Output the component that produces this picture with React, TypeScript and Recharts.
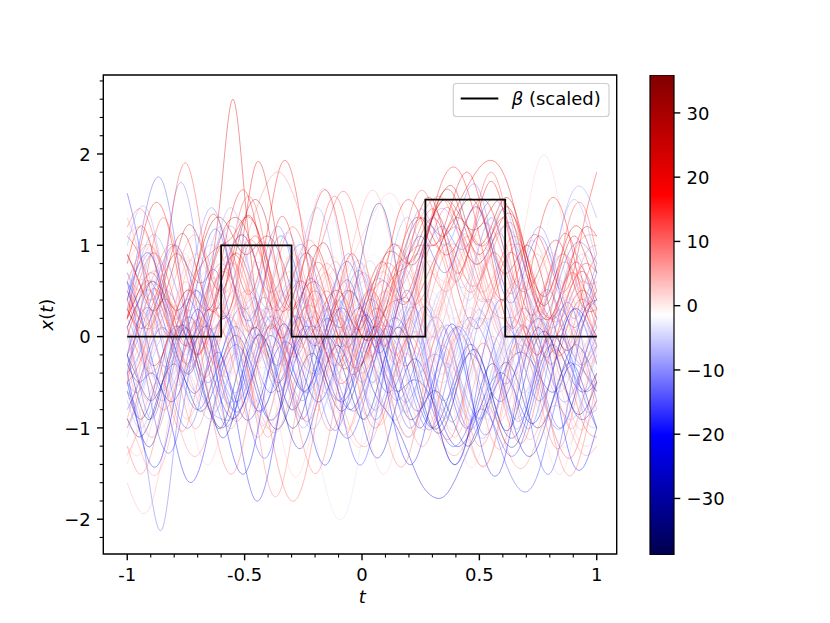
import React from 'react';
import {
  LineChart,
  Line,
  XAxis,
  YAxis,
  ReferenceArea,
  BarChart,
  Bar,
} from 'recharts';

// sample grid (t)
const tGrid = [
  -1, -0.95, -0.9, -0.85, -0.8, -0.75, -0.7, -0.65, -0.6, -0.55,
  -0.5, -0.45, -0.4, -0.35, -0.3, -0.25, -0.2, -0.15, -0.1, -0.05,
  0, 0.05, 0.1, 0.15, 0.2, 0.25, 0.3, 0.35, 0.4, 0.45,
  0.5, 0.55, 0.6, 0.65, 0.7, 0.75, 0.8, 0.85, 0.9, 0.95,
  1,
];

// x(t) samples (41 values each)
const samples: number[][] = [
  [0.2,0.5,0.6,0.3,-0.1, -0.4,-0.2,0.6,1.6,2.6, 1.55,0.4,-0.3,-0.5,-0.2, 0.3,0.5,0.3,-0.1,-0.4, -0.3,0.1,0.5,0.7,0.8, 1.1,1.3,1.1,0.6,0.2, 0.1,0.4,0.8,0.9,0.5, 0.0,-0.3,-0.1,0.3,0.4, 0.2],
  [1.57,1.0,0.2,-0.3,-0.2, 0.3,0.5,0.2,-0.4,-0.8, -0.7,-0.2,0.2,0.1,-0.3, -0.6,-0.4,0.1,0.5,0.6, 0.2,-0.3,-0.6,-0.5,-0.1, 0.3,0.2,-0.3,-0.8,-1.0, -0.7,-0.2,0.1,0.0,-0.4, -0.7,-0.5,0.0,0.3,0.1, -0.3],
  [0.4,1.0,1.6,1.7,1.1, 0.3,-0.3,-0.5,-0.2,0.2, 0.3,0.0,-0.4,-0.6,-0.3, 0.1,0.2,-0.1,-0.5,-0.8, -0.7,-0.3,0.0,-0.1,-0.5, -0.9,-1.0,-0.6,-0.1,0.2, 0.1,-0.2,-0.5,-0.4,0.0, 0.4,0.5,0.2,-0.2,-0.3, -0.1],
  [-0.5,-0.6,-0.2,0.5,1.5, 1.6,0.9,0.0,-0.6,-0.7, -0.3,0.1,0.2,-0.1,-0.5, -0.7,-0.4,0.1,0.3,0.1, -0.3,-0.5,-0.2,0.3,0.4, 0.0,-0.5,-0.7,-0.5,-0.1, 0.2,0.0,-0.5,-0.9,-0.8, -0.3,0.1,0.3,0.0,-0.4, -0.6],
  [0.9,0.6,0.4,0.7,1.5, 1.9,1.4,0.6,0.2,0.4, 0.9,1.1,0.8,0.2,-0.2, -0.1,0.3,0.5,0.3,-0.1, -0.3,0.0,0.5,0.8,0.9, 1.2,1.4,1.2,0.8,0.5, 0.6,0.9,0.8,0.4,0.0, -0.2,0.1,0.5,0.7,0.5, 0.2],
  [-0.2,0.1,0.5,0.4,0.0, -0.3,0.0,0.6,1.0,0.9, 0.5,0.6,1.2,1.85,1.8, 1.1,0.3,-0.2,-0.3,0.0, 0.4,0.5,0.2,-0.2,-0.3, 0.1,0.7,1.1,1.3,1.2, 1.0,1.1,1.3,1.0,0.4, -0.1,-0.2,0.2,0.6,0.7, 0.4],
  [0.5,0.3,0.1,0.2,0.6, 1.0,1.1,0.8,0.5,0.6, 1.0,1.4,1.7,1.8,1.6, 1.2,0.6,0.1,-0.2,-0.1, 0.3,0.6,0.7,0.4,0.0, -0.2,0.1,0.5,0.7,0.6, 0.3,0.2,0.4,0.6,0.5, 0.2,-0.1,-0.2,0.0,0.3, 0.5],
  [-0.3,0.1,0.3,0.1,-0.3, -0.6,-0.5,-0.1,0.2,0.1, -0.2,-0.3,0.0,0.4,0.6, 0.9,1.45,1.6,1.1,0.3, -0.4,-0.8,-0.7,-0.3,0.0, -0.1,-0.5,-0.9,-1.0,-0.6, -0.1,0.2,0.1,-0.3,-0.6, -0.5,-0.1,0.3,0.4,0.1, -0.3],
  [-0.6,-0.9,-0.7,-0.2,0.1, 0.0,-0.4,-0.8,-1.0,-0.8, -0.3,0.0,-0.1,-0.5,-0.8, -0.6,-0.1,0.2,0.1,0.3, 0.9,1.4,1.35,0.7,-0.1, -0.7,-1.0,-0.9,-0.5,-0.2, -0.3,-0.7,-1.1,-1.2,-0.9, -0.4,-0.1,-0.2,-0.5,-0.6, -0.4],
  [0.1,-0.2,-0.4,-0.2,0.2, 0.5,0.4,0.1,0.2,0.6, 1.0,1.0,0.6,0.2,0.1, 0.4,0.8,1.2,1.55,1.5, 1.0,0.4,-0.1,-0.3,0.0, 0.6,1.1,1.4,1.3,0.9, 0.5,0.4,0.7,1.0,0.9, 0.5,0.2,0.3,0.6,0.8, 0.7],
  [-0.4,-0.1,0.3,0.5,0.3, -0.1,-0.3,0.0,0.5,0.8, 0.6,0.1,-0.3,-0.4,-0.1, 0.3,0.4,0.3,0.5,0.9, 1.4,1.6,1.3,0.7,0.2, 0.0,0.2,0.6,0.9,1.0, 0.8,0.5,0.4,0.7,1.0, 1.0,0.6,0.1,-0.2,-0.1, 0.2],
  [0.8,1.0,0.9,0.5,0.2, 0.3,0.6,0.7,0.4,0.0, -0.2,0.0,0.3,0.4,0.2, -0.1,-0.2,0.1,0.5,0.8, 1.1,1.35,1.55,1.5,1.1, 0.6,0.3,0.4,0.8,1.1, 1.0,0.6,0.2,0.0,0.2, 0.6,0.9,0.8,0.4,0.1, 0.0],
  [0.3,0.0,-0.3,-0.2,0.2, 0.5,0.4,0.3,0.6,0.9, 0.8,0.4,0.1,0.2,0.5, 0.6,0.3,-0.2,-0.5,-0.4, 0.0,0.3,0.2,0.0,0.2, 0.5,0.8,1.1,1.4,1.65, 1.85,1.93,1.8,1.4,0.8, 0.3,0.0,0.1,0.4,0.5, 0.3],
  [-0.2,0.2,0.4,0.2,-0.2, -0.4,-0.2,0.2,0.5,0.4, 0.0,-0.3,-0.3,0.0,0.3, 0.4,0.2,0.0,0.1,0.4, 0.6,0.5,0.2,0.0,0.1, 0.4,0.5,0.3,0.2,0.4, 0.7,0.8,0.6,0.7,1.3, 1.9,1.9,1.3,0.6,0.2, 0.1],
  [-0.5,-0.3,0.1,0.4,0.3, 0.0,-0.2,0.1,0.6,0.9, 0.7,0.2,-0.2,-0.3,0.0, 0.3,0.3,0.0,-0.3,-0.3, 0.1,0.5,0.6,0.4,0.4, 0.8,1.35,1.75,1.85,1.6, 1.1,0.6,0.4,0.6,1.0, 1.1,0.8,0.5,0.7,1.3, 1.8],
  [0.7,0.5,0.6,0.9,1.0, 0.7,0.2,-0.1,0.0,0.3, 0.5,0.4,0.0,-0.3,-0.2, 0.2,0.6,0.8,0.6,0.2, 0.0,0.1,0.4,0.7,1.0, 1.3,1.5,1.5,1.2,0.8, 0.5,0.6,0.9,1.0,0.7, 0.3,0.2,0.5,0.9,1.1, 1.1],
  [0.2,-0.1,-0.5,-0.7,-0.5, -0.1,0.2,0.1,-0.3,-0.6, -0.5,-0.1,0.3,0.5,0.3, -0.1,-0.4,-0.3,0.0,0.2, 0.0,-0.4,-0.8,-0.9,-0.6, -0.2,0.0,-0.2,-0.6,-0.9, -0.8,-0.4,0.0,0.1,-0.1, 0.1,0.6,1.2,1.6,1.6, 1.3],
  [-0.6,-0.9,-1.7,-2.1,-1.2, -0.3,0.1,0.0,-0.4,-0.7, -0.6,-0.2,0.1,0.0,-0.3, -0.6,-0.5,-0.1,0.3,0.5, 0.3,-0.1,-0.5,-0.7,-0.5, -0.1,0.2,0.1,-0.3,-0.7, -0.9,-0.7,-0.3,0.0,-0.1, -0.5,-0.9,-1.0,-0.7,-0.3, 0.0],
  [-1.6,-1.9,-1.85,-1.3,-0.6, -0.1,0.0,-0.2,-0.3,0.0, 0.5,0.8,0.7,0.3,-0.1, -0.3,-0.1,0.3,0.6,0.5, 0.1,-0.3,-0.4,-0.1,0.3, 0.6,0.7,0.6,0.7,1.0, 1.1,0.8,0.3,-0.1,-0.2, 0.1,0.5,0.6,0.3,-0.1, -0.3],
  [-0.3,-0.5,-0.4,-0.6,-1.1, -1.55,-1.5,-1.0,-0.4,-0.1, -0.2,-0.6,-0.9,-0.8,-0.4, 0.0,0.1,-0.2,-0.6,-0.8, -0.6,-0.2,0.1,0.0,-0.4, -0.8,-1.0,-0.8,-0.4,-0.1, -0.2,-0.6,-1.0,-1.1,-0.8, -0.3,0.0,-0.1,-0.4,-0.6, -0.5],
  [0.3,0.0,-0.4,-0.5,-0.2, 0.2,0.4,0.2,-0.2,-0.4, -0.2,0.1,0.2,0.0,-0.3, -0.6,-1.1,-1.7,-2.0,-1.8, -1.1,-0.4,0.0,0.1,-0.1, -0.3,-0.2,0.1,0.3,0.1, -0.3,-0.6,-0.5,-0.1,0.3, 0.4,0.1,-0.3,-0.5,-0.3, 0.1],
  [0.6,0.9,1.0,0.7,0.2, -0.1,0.0,0.4,0.7,0.6, 0.2,-0.3,-0.9,-1.5,-1.8, -1.6,-1.0,-0.4,0.0,0.1, -0.1,-0.2,0.1,0.5,0.8, 0.9,0.7,0.5,0.6,0.9, 1.2,1.2,0.9,0.5,0.2, 0.2,0.5,0.8,0.7,0.3, 0.0],
  [-0.2,-0.5,-0.7,-0.5,-0.1, 0.2,0.1,-0.3,-0.7,-0.9, -0.7,-0.3,0.0,-0.1,-0.4, -0.6,-0.4,0.0,0.3,0.2, -0.2,-0.6,-0.8,-1.0,-1.3, -1.6,-1.75,-1.75,-1.55,-1.25, -0.95,-0.65,-0.4,-0.2,-0.2, -0.4,-0.6,-0.5,-0.1,0.3, 0.4],
  [0.1,0.4,0.5,0.2,-0.2, -0.4,-0.2,0.2,0.3,0.0, -0.5,-0.8,-0.7,-0.3,0.1, 0.2,-0.1,-0.5,-0.7,-0.5, -0.1,0.2,0.1,-0.3,-0.7, -0.8,-0.5,-0.1,0.1,-0.1, -0.5,-0.9,-1.3,-1.6,-1.7, -1.5,-1.0,-0.5,-0.3,-0.4, -0.6],
  [-0.8,-0.5,-0.1,0.1,-0.1, -0.5,-0.6,-0.3,-0.2,-0.7, -1.4,-1.8,-1.5,-0.8,-0.2, 0.1,0.0,-0.4,-0.7,-0.6, -0.2,0.1,0.0,-0.4,-0.8, -1.0,-0.7,-0.2,0.1,0.0, -0.3,-0.6,-0.7,-0.4,0.0, 0.2,0.0,-0.4,-0.8,-0.9, -0.7],
  [0.4,0.2,0.3,0.7,1.0, 0.8,0.3,-0.2,-0.3,0.0, -0.2,-0.9,-1.6,-1.7,-1.1, -0.4,0.1,0.3,0.2,0.0, 0.1,0.4,0.8,1.0,0.8, 0.4,0.2,0.4,0.9,1.3, 1.4,1.1,0.6,0.2,0.1, 0.3,0.7,0.9,0.8,0.6, 0.6],
  [-0.9,-1.2,-1.5,-1.4,-0.9, -0.3,0.2,0.5,0.7,0.8, 0.6,0.2,-0.1,0.0,0.4, 0.6,0.4,0.0,-0.4,-0.5, -0.2,0.2,0.4,0.2,-0.2, -0.4,-0.1,0.4,0.9,1.1, 0.9,0.4,0.0,-0.2,0.0, 0.4,0.6,0.4,0.0,-0.4, -0.5],
  [0.2,0.6,0.9,0.8,0.4, 0.0,-0.2,0.1,0.6,1.0, 1.1,0.8,0.3,0.0,0.1, 0.5,0.8,0.7,0.3,-0.2, -0.4,-0.2,0.2,0.6,0.9, 1.0,1.0,1.1,1.2,1.0, 0.6,0.3,0.2,0.2,0.0, -0.4,-0.9,-1.25,-1.3,-0.9, -0.4],
  [1.1,1.2,1.0,0.6,0.3, 0.4,0.8,1.0,0.9,0.5, 0.1,0.0,0.3,0.6,0.7, 0.4,0.0,-0.2,0.0,0.3, 0.4,0.2,-0.1,-0.1,0.2, 0.4,0.3,-0.1,-0.6,-1.1, -1.4,-1.3,-0.8,-0.2,0.2, 0.3,0.2,0.3,0.6,0.8, 0.7],
  [-1.0,-0.7,-0.3,0.0,0.0, -0.3,-0.7,-0.9,-0.7,-0.3, 0.1,0.3,0.2,-0.2,-0.6, -0.9,-1.0,-0.7,-0.3,0.0, 0.1,-0.1,-0.5,-0.9,-1.1, -0.9,-0.5,-0.3,-0.4,-0.8, -1.1,-1.0,-0.6,-0.2,0.0, -0.2,-0.5,-0.8,-0.9,-0.6, -0.2],
  [0.5,0.8,1.1,1.0,0.6, 0.3,0.4,0.8,1.1,1.2, 0.9,0.5,0.3,0.4,0.6, 0.5,0.1,-0.3,-0.4,-0.1, 0.3,0.6,0.6,0.5,0.7, 1.0,1.3,1.4,1.2,0.9, 0.8,1.0,1.2,1.1,0.7, 0.3,0.1,0.2,0.5,0.6, 0.4],
  [0.0,-0.3,-0.6,-0.6,-0.2, 0.2,0.5,0.4,0.0,-0.4, -0.6,-0.4,0.0,0.3,0.2, -0.2,-0.5,-0.5,-0.2,0.2, 0.4,0.3,-0.1,-0.5,-0.6, -0.3,0.1,0.3,0.1,-0.3, -0.6,-0.5,-0.1,0.3,0.5, 0.3,-0.1,-0.4,-0.4,-0.1, 0.3],
  [0.3,0.1,0.2,0.6,0.9, 0.8,0.6,0.7,1.1,1.3, 1.2,0.8,0.4,0.3,0.6, 0.9,0.8,0.4,0.0,-0.1, 0.2,0.6,0.9,0.9,0.8, 1.0,1.3,1.5,1.4,1.2, 1.2,1.4,1.5,1.2,0.7, 0.3,0.2,0.5,0.8,0.7, 0.3],
  [0.6,0.3,-0.2,-0.6,-0.7, -0.4,0.0,0.1,-0.2,-0.6, -0.9,-0.8,-0.4,-0.1,-0.1, -0.4,-0.7,-0.6,-0.2,0.2, 0.3,0.0,-0.4,-0.6,-0.5, -0.5,-0.7,-1.0,-1.2,-1.1, -0.8,-0.5,-0.4,-0.6,-0.9, -0.9,-0.5,0.0,0.3,0.2, -0.1],
  [-0.7,-0.4,0.0,0.3,0.4, 0.1,-0.3,-0.6,-0.5,-0.1, 0.4,0.7,0.6,0.2,-0.2, -0.3,0.0,0.4,0.5,0.2, -0.3,-0.7,-0.8,-0.5,0.0, 0.3,0.4,0.1,-0.2,-0.1, 0.3,0.6,0.5,0.1,-0.4, -0.7,-0.6,-0.2,0.2,0.4, 0.3],
  [1.1,0.9,0.5,0.1,0.0, 0.3,0.7,0.9,1.0,1.1, 1.3,1.2,0.8,0.4,0.3, 0.5,0.6,0.4,0.0,-0.3, -0.3,0.0,0.3,0.4,0.5, 0.9,1.3,1.5,1.3,0.9, 0.8,1.0,1.3,1.3,0.9, 0.4,0.2,0.4,0.9,1.2, 1.1],
  [-0.4,-0.2,0.2,0.5,0.4, 0.0,-0.5,-0.8,-0.9,-0.9, -0.7,-0.3,0.1,0.2,0.0, -0.3,-0.4,-0.2,0.2,0.6, 0.7,0.3,-0.2,-0.6,-0.7, -0.4,-0.2,-0.3,-0.7,-1.0, -0.9,-0.5,-0.1,0.2,0.3, 0.0,-0.4,-0.7,-0.6,-0.2, 0.2],
  [0.0,0.4,0.7,0.6,0.1, -0.4,-0.6,-0.3,0.2,0.5, 0.4,0.0,-0.2,0.1,0.6, 1.0,1.0,0.6,0.1,-0.2, -0.1,0.3,0.5,0.3,0.0, 0.1,0.5,0.9,1.0,0.7, 0.4,0.5,0.9,1.1,0.9, 0.5,0.2,0.2,0.5,0.9, 1.0],
  [-0.9,-1.1,-0.9,-0.5,-0.3, -0.5,-0.8,-0.7,-0.3,0.0, -0.1,-0.5,-0.9,-1.0,-0.7, -0.3,-0.2,-0.5,-0.8,-0.7, -0.3,0.0,-0.2,-0.6,-0.9, -0.8,-0.6,-0.7,-1.0,-1.2, -1.0,-0.6,-0.3,-0.4,-0.8, -1.0,-0.8,-0.4,-0.1,-0.2, -0.5],
  [-1.2,-1.3,-1.0,-0.5,-0.2, -0.3,-0.6,-0.8,-0.5,0.0, 0.3,0.2,-0.2,-0.6,-0.8, -0.6,-0.3,-0.3,-0.7,-1.1, -1.2,-0.9,-0.4,0.0,0.2, 0.1,-0.2,-0.3,0.0,0.3, 0.2,-0.2,-0.6,-0.8,-0.6, -0.3,-0.3,-0.6,-1.0,-1.2, -1.1],
  [0.9,0.6,0.1,-0.3,-0.4, -0.1,0.3,0.5,0.3,-0.1, -0.5,-0.7,-0.6,-0.2,0.2, 0.4,0.3,0.0,-0.4,-0.7, -0.9,-0.8,-0.4,0.0,0.1, -0.1,-0.4,-0.5,-0.3,0.1, 0.4,0.3,-0.1,-0.5,-0.6, -0.3,0.1,0.5,0.8,0.9, 0.7],
  [0.1,0.4,0.6,0.5,0.3, 0.4,0.8,1.2,1.3,1.1, 0.9,1.0,1.1,0.9,0.5, 0.1,-0.1,0.1,0.4,0.5, 0.3,0.1,0.3,0.7,1.1, 1.3,1.2,1.1,1.3,1.5, 1.4,1.0,0.7,0.8,1.0, 0.8,0.3,-0.1,-0.1,0.2, 0.5],
  [-1.3,-1.0,-0.6,-0.5,-0.8, -1.2,-1.3,-1.0,-0.5,-0.2, -0.3,-0.7,-1.0,-1.0,-0.6, -0.2,0.0,-0.2,-0.6,-1.0, -1.2,-1.1,-0.7,-0.3,-0.2, -0.5,-0.9,-1.2,-1.3,-1.1, -0.8,-0.8,-1.1,-1.4,-1.4, -1.1,-0.8,-0.8,-1.1,-1.3, -1.2],
  [0.7,0.4,0.1,0.0,0.3, 0.8,1.2,1.1,0.6,0.1, -0.2,-0.1,0.3,0.7,0.8, 0.5,0.0,-0.3,-0.2,0.2, 0.7,0.9,0.7,0.2,-0.2, -0.3,0.0,0.4,0.6,0.4, 0.0,-0.4,-0.5,-0.2,0.3, 0.7,0.8,0.5,0.1,-0.1, 0.0],
  [0.4,0.8,0.9,0.5,-0.1, -0.6,-0.8,-0.6,-0.2,0.1, 0.0,-0.3,-0.6,-0.5,-0.2, 0.0,-0.2,-0.6,-1.0,-1.1, -0.8,-0.3,0.1,0.2,0.0, -0.4,-0.8,-1.1,-1.2,-1.0, -0.8,-0.9,-1.2,-1.3,-1.0, -0.5,-0.1,0.0,-0.3,-0.7, -1.0],
  [1.2,1.4,1.2,0.7,0.2, 0.0,0.2,0.6,0.8,0.6, 0.2,0.1,0.4,0.9,1.2, 1.0,0.5,0.0,-0.3,-0.2, 0.2,0.6,0.8,0.7,0.4, 0.4,0.7,1.0,0.9,0.6, 0.6,0.9,1.2,1.2,0.8, 0.3,-0.1,-0.2,0.1,0.6, 0.9],
  [-0.5,-0.9,-1.1,-0.9,-0.4, 0.0,0.1,-0.2,-0.6,-0.8, -0.6,-0.2,0.1,0.1,-0.2, -0.6,-0.8,-0.7,-0.3,0.1, 0.2,0.0,-0.4,-0.7,-0.8, -0.5,-0.1,0.1,-0.1,-0.5, -0.8,-0.9,-0.6,-0.2,-0.1, -0.4,-0.9,-1.2,-1.1,-0.7, -0.3],
  [-0.3,0.0,0.4,0.8,1.0, 0.8,0.4,0.3,0.6,1.0, 1.1,0.8,0.5,0.6,0.9, 1.0,0.7,0.2,-0.1,0.0, 0.3,0.4,0.2,0.1,0.4, 0.8,1.1,1.2,1.0,1.0, 1.3,1.5,1.4,1.0,0.5, 0.2,0.3,0.7,1.0,1.0, 0.8],
  [0.2,0.5,0.7,0.5,0.1, -0.1,0.1,0.3,0.2,0.4, 1.2,1.9,1.6,0.9,0.3, 0.0,0.1,0.4,0.5,0.3, 0.0,0.0,0.3,0.8,1.2, 1.3,1.1,0.9,1.0,1.3, 1.5,1.4,1.0,0.6,0.5, 0.7,1.0,1.0,0.6,0.3, 0.3],
  [0.3,0.8,0.6,0.0,-0.5, -0.4,0.1,0.6,0.5,-0.1, -0.6,-0.7,-0.2,0.4,0.6, 0.2,-0.4,-0.6,-0.2,0.4, 0.7,0.4,-0.2,-0.7,-0.8, -0.3,0.3,0.5,0.1,-0.5, -0.9,-0.7,-0.1,0.4,0.5, 0.1,-0.4,-0.6,-0.3,0.2, 0.5],
  [-0.2,0.4,0.9,0.7,0.1, -0.2,0.2,0.9,1.2,0.8, 0.2,0.0,0.4,1.0,1.1, 0.6,0.0,-0.2,0.2,0.7, 0.8,0.3,-0.3,-0.4,0.1, 0.8,1.3,1.2,0.7,0.4, 0.6,1.1,1.4,1.1,0.4, -0.1,0.0,0.5,0.9,0.7, 0.2],
  [-0.9,-0.4,0.2,0.3,-0.2, -0.8,-1.0,-0.6,0.0,0.2, -0.2,-0.8,-1.1,-0.8,-0.2, 0.2,0.0,-0.5,-1.0,-1.0, -0.5,0.0,0.1,-0.3,-0.9, -1.2,-1.0,-0.4,0.0,-0.1, -0.6,-1.1,-1.2,-0.7,-0.1, 0.1,-0.3,-0.8,-1.0,-0.6, -0.1],
  [0.6,0.1,-0.4,-0.3,0.3, 0.8,0.7,0.1,-0.4,-0.3, 0.3,0.9,1.0,0.5,-0.1, -0.3,0.1,0.6,0.7,0.2, -0.4,-0.5,0.0,0.6,0.8, 0.4,-0.2,-0.4,0.0,0.6, 0.9,0.6,0.0,-0.4,-0.2, 0.3,0.7,0.6,0.1,-0.3, -0.2],
  [0.1,-0.5,-0.9,-0.6,0.0, 0.4,0.2,-0.4,-0.9,-0.9, -0.3,0.3,0.4,0.0,-0.6, -0.9,-0.5,0.1,0.4,0.1, -0.5,-0.9,-0.7,-0.1,0.3, 0.2,-0.3,-0.8,-0.9,-0.4, 0.2,0.4,0.0,-0.6,-1.0, -0.8,-0.2,0.3,0.3,-0.2, -0.7],
  [0.8,1.2,1.0,0.4,0.0, 0.2,0.8,1.3,1.2,0.6, 0.1,0.2,0.8,1.3,1.1, 0.5,0.0,0.0,0.5,0.9, 0.7,0.2,-0.1,0.3,0.9, 1.4,1.5,1.1,0.7,0.9, 1.4,1.7,1.4,0.8,0.3, 0.3,0.7,1.1,1.0,0.5, 0.1],
  [-0.3,0.3,0.7,0.5,-0.1, -0.6,-0.5,0.1,0.7,0.8, 0.3,-0.3,-0.5,-0.1,0.5, 0.8,0.5,-0.1,-0.5,-0.3, 0.3,0.7,0.6,0.0,-0.6, -0.7,-0.2,0.4,0.7,0.4, -0.2,-0.6,-0.4,0.2,0.7, 0.7,0.2,-0.4,-0.6,-0.2, 0.4],
  [-0.5,-1.0,-1.2,-0.8,-0.2, 0.1,-0.2,-0.7,-1.1,-0.9, -0.4,0.0,-0.1,-0.6,-1.1, -1.2,-0.8,-0.3,-0.1,-0.4, -0.9,-1.3,-1.2,-0.7,-0.3, -0.3,-0.7,-1.2,-1.4,-1.1, -0.6,-0.3,-0.5,-1.0,-1.3, -1.2,-0.8,-0.4,-0.3,-0.6, -1.0],
  [0.0,-0.5,-0.7,-0.3,0.3, 0.6,0.3,-0.2,-0.3,0.2, 0.8,1.0,0.6,0.0,-0.3, 0.0,0.5,0.7,0.4,-0.2, -0.5,-0.2,0.4,0.8,0.6, 0.1,0.0,0.5,1.0,1.1, 0.7,0.2,0.0,0.3,0.6, 0.5,0.0,-0.5,-0.6,-0.2, 0.3],
  [0.7,0.3,-0.3,-0.6,-0.3, 0.3,0.5,0.1,-0.5,-0.8, -0.5,0.1,0.3,-0.1,-0.7, -1.0,-0.7,-0.1,0.2,0.0, -0.5,-0.8,-0.6,-0.1,0.2, -0.1,-0.6,-0.9,-0.6,0.0, 0.3,0.0,-0.6,-1.0,-0.8, -0.2,0.2,0.1,-0.4,-0.8, -0.8],
  [0.3,0.7,0.9,0.5,0.2, 0.4,1.0,1.4,1.2,0.6, 0.3,0.5,1.0,1.2,0.8, 0.2,-0.1,0.2,0.7,0.9, 0.5,0.0,0.0,0.5,1.1, 1.4,1.2,1.0,1.2,1.6, 1.6,1.1,0.6,0.5,0.9, 1.2,1.0,0.5,0.2,0.4, 0.8],
  [-1.1,-0.6,-0.1,0.1,-0.2, -0.6,-0.6,-0.2,0.2,0.1, -0.4,-0.9,-0.9,-0.4,0.1, 0.2,-0.2,-0.7,-0.8,-0.4, 0.1,0.2,-0.2,-0.7,-0.8, -0.4,0.0,0.1,-0.3,-0.8, -0.9,-0.5,0.0,0.1,-0.3, -0.8,-0.9,-0.5,0.0,0.1, -0.2],
  [0.4,0.0,-0.2,0.2,0.7, 0.9,0.5,-0.1,-0.4,-0.2, 0.3,0.6,0.4,-0.1,-0.5, -0.3,0.3,0.8,0.8,0.3, -0.2,-0.3,0.1,0.6,0.7, 0.3,-0.2,-0.3,0.1,0.5, 0.5,0.1,-0.3,-0.2,0.3, 0.8,0.9,0.5,-0.1,-0.4, -0.2],
  [0.2,0.6,0.5,0.0,-0.6, -0.9,-0.7,-0.2,0.2,0.2, -0.3,-0.8,-1.0,-0.7,-0.1, 0.3,0.2,-0.3,-0.8,-1.0, -0.6,0.0,0.3,0.0,-0.6, -1.0,-0.9,-0.4,0.1,0.1, -0.3,-0.8,-0.9,-0.5,0.0, 0.3,0.1,-0.4,-0.9,-1.0, -0.7],
  [-0.6,-0.2,0.4,0.8,0.6, 0.1,-0.2,0.1,0.7,1.0, 0.8,0.3,0.0,0.2,0.7, 0.9,0.5,0.0,-0.2,0.2, 0.7,0.8,0.4,0.1,0.3, 0.9,1.2,1.0,0.6,0.6, 1.0,1.3,1.1,0.5,0.1, 0.2,0.6,0.9,0.7,0.2, -0.1],
  [-0.2,-0.7,-0.9,-0.5,0.0, 0.1,-0.3,-0.8,-1.0,-0.6, -0.1,0.1,-0.2,-0.7,-1.0, -0.8,-0.3,0.0,-0.2,-0.6, -0.9,-0.7,-0.2,0.1,-0.1, -0.6,-1.0,-1.0,-0.6,-0.2, -0.2,-0.6,-1.0,-0.9,-0.4, 0.0,0.0,-0.4,-0.8,-0.8, -0.5],
  [0.9,0.5,0.0,-0.1,0.3, 0.6,0.4,-0.1,-0.5,-0.4, 0.1,0.5,0.5,0.0,-0.5, -0.6,-0.2,0.3,0.4,0.0, -0.4,-0.4,0.0,0.5,0.6, 0.2,-0.3,-0.5,-0.2,0.3, 0.6,0.4,-0.1,-0.5,-0.4, 0.1,0.5,0.5,0.1,-0.3, -0.4],
  [0.5,0.2,0.1,0.5,1.0, 1.1,0.7,0.3,0.4,0.9, 1.3,1.2,0.7,0.3,0.4, 0.8,1.0,0.7,0.2,0.0, 0.3,0.7,0.8,0.5,0.4, 0.8,1.3,1.6,1.5,1.1, 0.9,1.1,1.4,1.3,0.8, 0.4,0.4,0.8,1.1,0.9, 0.5],
  [-0.7,-1.0,-0.8,-0.3,0.1, 0.0,-0.4,-0.8,-0.7,-0.2, 0.3,0.4,0.0,-0.5,-0.8, -0.5,0.0,0.3,0.1,-0.4, -0.8,-0.8,-0.3,0.2,0.3, -0.1,-0.6,-0.8,-0.5,0.0, 0.2,-0.1,-0.6,-0.9,-0.7, -0.2,0.2,0.1,-0.4,-0.9, -1.0],
  [1.3,0.9,0.3,0.0,0.2, 0.7,0.9,0.6,0.1,0.0, 0.4,0.9,1.0,0.6,0.1, -0.1,0.3,0.7,0.8,0.4, -0.1,-0.2,0.2,0.6,0.7, 0.3,0.0,0.2,0.7,1.0, 0.8,0.3,0.0,0.2,0.7, 0.9,0.6,0.1,-0.1,0.2, 0.6],
  [0.0,0.3,0.1,-0.4,-0.9, -1.0,-0.5,0.0,0.1,-0.3, -0.8,-1.1,-0.9,-0.4,0.0, -0.1,-0.6,-1.0,-0.9,-0.4, 0.0,0.0,-0.4,-0.9,-1.1, -0.8,-0.3,-0.1,-0.4,-0.9, -1.2,-1.0,-0.5,-0.1,-0.2, -0.6,-1.1,-1.2,-0.8,-0.3, -0.1],
  [-0.4,0.2,0.6,0.4,0.0, 0.1,0.6,1.1,1.1,0.6, 0.2,0.3,0.8,1.1,0.9, 0.4,0.1,0.3,0.7,0.8, 0.4,-0.1,-0.1,0.4,0.9, 1.1,0.9,0.7,0.9,1.3, 1.4,1.0,0.5,0.4,0.8, 1.1,0.9,0.4,0.1,0.3, 0.7],
  [0.5,0.9,0.7,0.1,-0.4, -0.4,0.0,0.5,0.6,0.2, -0.4,-0.6,-0.3,0.3,0.6, 0.4,-0.2,-0.6,-0.5,0.0, 0.5,0.6,0.2,-0.4,-0.6, -0.3,0.2,0.5,0.3,-0.2, -0.6,-0.5,0.0,0.5,0.6, 0.2,-0.3,-0.5,-0.2,0.3, 0.6],
  [-1.0,-0.6,0.0,0.3,0.1, -0.3,-0.2,0.3,0.8,0.8, 0.3,-0.1,0.0,0.5,0.9, 0.7,0.2,-0.2,-0.1,0.4, 0.7,0.5,0.0,-0.2,0.1, 0.7,1.0,0.8,0.3,0.1, 0.5,1.0,1.1,0.6,0.0, -0.3,0.0,0.5,0.7,0.4, -0.1],
  [-0.3,-0.8,-1.1,-0.9,-0.3, 0.1,0.1,-0.3,-0.8,-1.0, -0.6,-0.1,0.1,-0.2,-0.7, -0.9,-0.6,-0.1,0.2,0.0, -0.5,-0.9,-0.9,-0.4,0.0, 0.0,-0.4,-0.9,-1.1,-0.8, -0.3,0.0,-0.2,-0.7,-1.1, -1.0,-0.5,0.0,0.1,-0.3, -0.8],
  [0.9,0.6,0.3,0.4,0.8, 1.2,1.1,0.7,0.5,0.8, 1.3,1.5,1.2,0.6,0.3, 0.5,0.9,1.0,0.6,0.2, 0.1,0.5,0.9,1.0,0.8, 0.9,1.3,1.6,1.6,1.2, 1.0,1.2,1.5,1.4,0.9, 0.5,0.5,0.9,1.2,1.1, 0.7],
  [-0.8,-0.4,0.1,0.3,0.0, -0.4,-0.5,-0.1,0.4,0.5, 0.1,-0.4,-0.6,-0.2,0.3, 0.5,0.2,-0.3,-0.6,-0.4, 0.1,0.5,0.4,-0.1,-0.5, -0.4,0.1,0.5,0.5,0.0, -0.5,-0.6,-0.2,0.3,0.5, 0.2,-0.3,-0.6,-0.4,0.1, 0.5],
  [0.4,0.0,-0.5,-0.8,-0.6, -0.1,0.2,0.0,-0.5,-0.9, -0.8,-0.3,0.1,0.0,-0.5, -0.9,-0.8,-0.3,0.0,-0.2, -0.7,-1.0,-0.8,-0.3,0.0, -0.2,-0.7,-1.1,-1.0,-0.5, -0.1,-0.2,-0.7,-1.1,-1.1, -0.6,-0.2,-0.2,-0.6,-1.0, -1.1],
  [0.2,0.7,1.0,0.7,0.1, -0.3,-0.1,0.4,0.7,0.5, 0.0,-0.3,0.0,0.6,0.9, 0.6,0.1,-0.2,0.0,0.5, 0.8,0.5,0.0,-0.2,0.2, 0.7,0.8,0.4,0.0,0.1, 0.6,0.9,0.7,0.2,-0.1, 0.1,0.6,0.9,0.7,0.2, -0.1],
  [-0.2,0.2,0.3,-0.1,-0.7, -1.0,-0.8,-0.2,0.2,0.1, -0.4,-0.8,-0.7,-0.2,0.2, 0.1,-0.4,-0.9,-1.0,-0.6, -0.1,0.1,-0.2,-0.7,-1.0, -0.8,-0.3,0.1,0.0,-0.5, -1.0,-1.0,-0.5,0.0,0.1, -0.3,-0.8,-1.0,-0.7,-0.2, 0.1],
  [1.0,1.4,1.3,0.7,0.0, -0.4,-0.2,0.5,1.2,1.4, 1.0,0.3,-0.3,-0.3,0.3, 1.0,1.4,1.2,0.5,-0.2, -0.5,-0.2,0.5,1.1,1.3, 0.9,0.2,-0.3,-0.2,0.4, 1.0,1.3,1.0,0.4,-0.1, 0.0,0.6,1.2,1.5,1.3, 0.8],
  [-1.2,-1.5,-1.3,-0.7,0.0, 0.3,0.0,-0.7,-1.3,-1.5, -1.1,-0.4,0.1,0.0,-0.6, -1.2,-1.5,-1.2,-0.5,0.1, 0.2,-0.3,-1.0,-1.4,-1.3, -0.7,-0.1,0.1,-0.3,-1.0, -1.4,-1.3,-0.7,-0.1,0.1, -0.3,-0.9,-1.4,-1.5,-1.1, -0.5],
  [-0.4,-1.0,-1.4,-1.3,-0.7, 0.0,0.3,0.0,-0.7,-1.3, -1.5,-1.1,-0.4,0.1,0.0, -0.6,-1.2,-1.4,-1.0,-0.3, 0.2,0.1,-0.5,-1.1,-1.4, -1.2,-0.6,0.0,0.1,-0.4, -1.1,-1.5,-1.4,-0.8,-0.2, 0.1,-0.2,-0.9,-1.4,-1.4, -1.0],
  [0.2,0.9,1.4,1.4,0.9, 0.2,-0.2,0.1,0.8,1.4, 1.6,1.2,0.5,0.0,0.2, 0.8,1.4,1.6,1.2,0.5, 0.0,0.1,0.7,1.3,1.5, 1.3,1.0,1.2,1.6,1.8, 1.5,0.9,0.3,0.1,0.5, 1.1,1.5,1.4,0.9,0.3, 0.0],
  [1.4,0.9,0.2,-0.3,-0.2, 0.4,1.1,1.5,1.3,0.6, -0.1,-0.4,0.0,0.7,1.3, 1.4,0.9,0.2,-0.2,0.0, 0.6,1.2,1.5,1.2,0.5, -0.1,-0.3,0.1,0.8,1.3, 1.3,0.7,0.0,-0.3,0.0, 0.7,1.3,1.5,1.1,0.4, -0.1],
  [-1.4,-0.9,-0.2,0.2,0.0, -0.6,-1.2,-1.4,-1.0,-0.3, 0.2,0.2,-0.3,-1.0,-1.5, -1.4,-0.8,-0.1,0.2,-0.1, -0.7,-1.3,-1.5,-1.1,-0.4, 0.1,0.2,-0.3,-0.9,-1.4, -1.3,-0.8,-0.2,0.1,-0.1, -0.7,-1.3,-1.5,-1.1,-0.5, 0.0],
  [0.6,0.0,-0.7,-1.2,-1.2, -0.6,0.2,0.7,0.6,0.0, -0.7,-1.2,-1.3,-0.8,-0.1, 0.5,0.6,0.1,-0.6,-1.2, -1.4,-1.0,-0.3,0.3,0.5, 0.1,-0.6,-1.2,-1.4,-1.1, -0.4,0.2,0.4,0.0,-0.7, -1.3,-1.5,-1.1,-0.4,0.2, 0.4],
  [-0.5,0.2,0.9,1.3,1.0, 0.3,-0.3,-0.4,0.2,1.0, 1.5,1.4,0.8,0.1,-0.2, 0.1,0.8,1.4,1.5,1.0, 0.3,-0.1,0.1,0.7,1.3, 1.6,1.4,0.9,0.6,0.9, 1.5,1.8,1.5,0.8,0.1, -0.2,0.2,0.9,1.4,1.4, 0.9],
];

// colour value of each sample (colorbar scale)
const sampleColorValues = [
  22, -18, -15, -12, 14, 18, 8, -6, -28, 12, 6, 4, 20, 3, 16, 10, -10, -14, 5, -20,
  -4, 11, -24, -16, -19, 9, 7, 13, 6, -9, -10, -3, 24, -21, 2, 19, -13, 9, -30, 4,
  -7, 28, 8, 1, -17, 12, -5, -14, 21,
  -8, -9, 9, 5, -14, 19, -2, -26, 8, -11, -12, -6, 3, 6, -7, -32, 0, 23, -9, 7,
  10, -16, -4, 10, 7, 26, -1, 12, 6, -15,
  -9, 10, -20, 17, -3, 3, -16, 13,
];

// beta (scaled) step function
const betaT = [-1, -0.6, -0.6, -0.3, -0.3, 0.27, 0.27, 0.61, 0.61, 1];
const betaY = [0, 0, 1, 1, 0, 0, 1.5, 1.5, 0, 0];

// axes
const xTicks = [
  -1, -0.9, -0.8, -0.7, -0.6, -0.5, -0.4, -0.3, -0.2, -0.1,
  0, 0.1, 0.2, 0.3, 0.4, 0.5, 0.6, 0.7, 0.8, 0.9, 1,
];
const xMajorTicks = [-1, -0.5, 0, 0.5, 1];
const xTickLabels = ['-1', '-0.5', '0', '0.5', '1'];
const yTicks = [
  -2.2, -2, -1.8, -1.6, -1.4, -1.2, -1, -0.8, -0.6, -0.4, -0.2,
  0, 0.2, 0.4, 0.6, 0.8, 1, 1.2, 1.4, 1.6, 1.8, 2, 2.2, 2.4, 2.6, 2.8,
];
const yMajorTicks = [-2, -1, 0, 1, 2];
const yTickLabels = ['\u22122', '\u22121', '0', '1', '2'];

const cbTicks = [-30, -20, -10, 0, 10, 20, 30];
const cbTickLabels = ['\u221230', '\u221220', '\u221210', '0', '10', '20', '30'];

const X_MIN = -1.102;
const X_MAX = 1.085;
const Y_MIN = -2.381;
const Y_MAX = 2.865;
const VMIN = -38.8;
const VMAX = 35.9;

// plot box in page pixels
const PL = 103.3;
const PR = 616.7;
const PT = 75;
const PB = 554;

const FONT = '"DejaVu Sans", sans-serif';

const seismicAnchors = [
  [0, 0, 0.3],
  [0, 0, 1],
  [1, 1, 1],
  [1, 0, 0],
  [0.5, 0, 0],
];

const seismic = (v: number) => {
  let s = (v - VMIN) / (VMAX - VMIN);
  s = Math.max(0, Math.min(1, s));
  const p = s * 4;
  const i = Math.min(3, Math.floor(p));
  const f = p - i;
  const a = seismicAnchors[i];
  const b = seismicAnchors[i + 1];
  const c = a.map((av, k) => Math.round((av + (b[k] - av) * f) * 255));
  return `rgb(${c[0]},${c[1]},${c[2]})`;
};

const rows = tGrid.map((t, i) => {
  const row: Record<string, number> = { t };
  samples.forEach((s, k) => {
    row[`c${k}`] = s[i];
  });
  return row;
});

const betaRows = betaT.map((t, i) => ({ t, beta: betaY[i] }));
const cbRows = [{ name: 'cb', range: [VMIN, VMAX] }];

const XTick = (props: any) => {
  const { x, payload } = props;
  const idx = xMajorTicks.indexOf(payload.value);
  const major = idx >= 0;
  return (
    <g>
      <line x1={x} x2={x} y1={PB} y2={PB + (major ? 6.3 : 3.6)} stroke="#000" strokeWidth={major ? 1.4 : 1.1} />
      {major && (
        <text x={x} y={580.5} textAnchor="middle" fontFamily={FONT} fontSize={18} fill="#000">
          {xTickLabels[idx]}
        </text>
      )}
    </g>
  );
};

const YTick = (props: any) => {
  const { y, payload } = props;
  const idx = yMajorTicks.indexOf(payload.value);
  const major = idx >= 0;
  return (
    <g>
      <line x1={PL - (major ? 6.3 : 3.6)} x2={PL} y1={y} y2={y} stroke="#000" strokeWidth={major ? 1.4 : 1.1} />
      {major && (
        <text x={PL - 12.6} y={y + 6.8} textAnchor="end" fontFamily={FONT} fontSize={18} fill="#000">
          {yTickLabels[idx]}
        </text>
      )}
    </g>
  );
};

const CbTick = (props: any) => {
  const { y, payload } = props;
  const idx = cbTicks.indexOf(payload.value);
  const x0 = 74;
  return (
    <g>
      <line x1={x0} x2={x0 + 6.3} y1={y} y2={y} stroke="#000" strokeWidth={1.4} />
      <text x={x0 + 12.6} y={y + 6.8} textAnchor="start" fontFamily={FONT} fontSize={18} fill="#000">
        {cbTickLabels[idx]}
      </text>
    </g>
  );
};

const App: React.FC = () => {
  return (
    <div style={{ position: 'absolute', left: 0, top: 0, width: 830, height: 623, background: '#fff' }}>
      <svg width={0} height={0} style={{ position: 'absolute' }}>
        <defs>
          <linearGradient id="seismicGrad" x1="0" y1="0" x2="0" y2="1">
            <stop offset="0%" stopColor="#800000" />
            <stop offset="25%" stopColor="#ff0000" />
            <stop offset="50%" stopColor="#ffffff" />
            <stop offset="75%" stopColor="#0000ff" />
            <stop offset="100%" stopColor="#00004d" />
          </linearGradient>
        </defs>
      </svg>

      <div style={{ position: 'absolute', left: 0, top: 0 }}>
        <LineChart
          width={830}
          height={623}
          data={rows}
          margin={{ top: PT, right: 830 - PR, bottom: 623 - PB - 60, left: PL - 60 }}
        >
          <XAxis
            dataKey="t"
            type="number"
            domain={[X_MIN, X_MAX]}
            allowDataOverflow
            ticks={xTicks}
            interval={0}
            height={60}
            axisLine={false}
            tickLine={false}
            tick={<XTick />}
          />
          <YAxis
            type="number"
            domain={[Y_MIN, Y_MAX]}
            allowDataOverflow
            ticks={yTicks}
            interval={0}
            width={60}
            axisLine={false}
            tickLine={false}
            tick={<YTick />}
          />
          {samples.map((_, k) => (
            <Line
              key={`c${k}`}
              dataKey={`c${k}`}
              type="natural"
              stroke={seismic(sampleColorValues[k])}
              strokeWidth={0.8}
              strokeOpacity={0.5}
              dot={false}
              activeDot={false}
              isAnimationActive={false}
            />
          ))}
          <Line
            data={betaRows}
            dataKey="beta"
            type="linear"
            stroke="#000"
            strokeWidth={1.8}
            dot={false}
            activeDot={false}
            isAnimationActive={false}
          />
          <ReferenceArea
            x1={X_MIN}
            x2={X_MAX}
            y1={Y_MIN}
            y2={Y_MAX}
            fill="none"
            stroke="#000"
            strokeWidth={1.4}
            ifOverflow="visible"
          />
        </LineChart>
      </div>

      <div style={{ position: 'absolute', left: 600, top: 0 }}>
        <BarChart
          width={230}
          height={623}
          data={cbRows}
          barCategoryGap={0}
          margin={{ top: 75, right: 96, bottom: 68, left: 50 }}
        >
          <XAxis dataKey="name" hide />
          <YAxis
            orientation="right"
            type="number"
            domain={[VMIN, VMAX]}
            allowDataOverflow
            ticks={cbTicks}
            interval={0}
            width={60}
            axisLine={false}
            tickLine={false}
            tick={<CbTick />}
          />
          <Bar dataKey="range" fill="url(#seismicGrad)" stroke="#000" strokeWidth={1.2} isAnimationActive={false} />
        </BarChart>
      </div>

      <svg width={830} height={623} style={{ position: 'absolute', left: 0, top: 0, pointerEvents: 'none' }}>
        <g fontFamily={FONT} fontSize={18} fill="#000">
          <text x={362.3} y={603} textAnchor="middle" fontStyle="italic">t</text>
          <text x={53} y={(PT + PB) / 2} textAnchor="middle" transform={`rotate(-90 53 ${(PT + PB) / 2})`}>
            <tspan fontStyle="italic">x</tspan>(<tspan fontStyle="italic">t</tspan>)
          </text>
          <rect x={453.3} y={83.5} width={155.7} height={33} rx={3} fill="rgba(255,255,255,0.8)" stroke="#cccccc" strokeWidth={1.1} />
          <line x1={460.7} x2={498.3} y1={98.5} y2={98.5} stroke="#000" strokeWidth={1.8} />
          <text x={511.7} y={104.5}>
            <tspan fontStyle="italic">β</tspan> (scaled)
          </text>
        </g>
      </svg>
    </div>
  );
};

export default App;
